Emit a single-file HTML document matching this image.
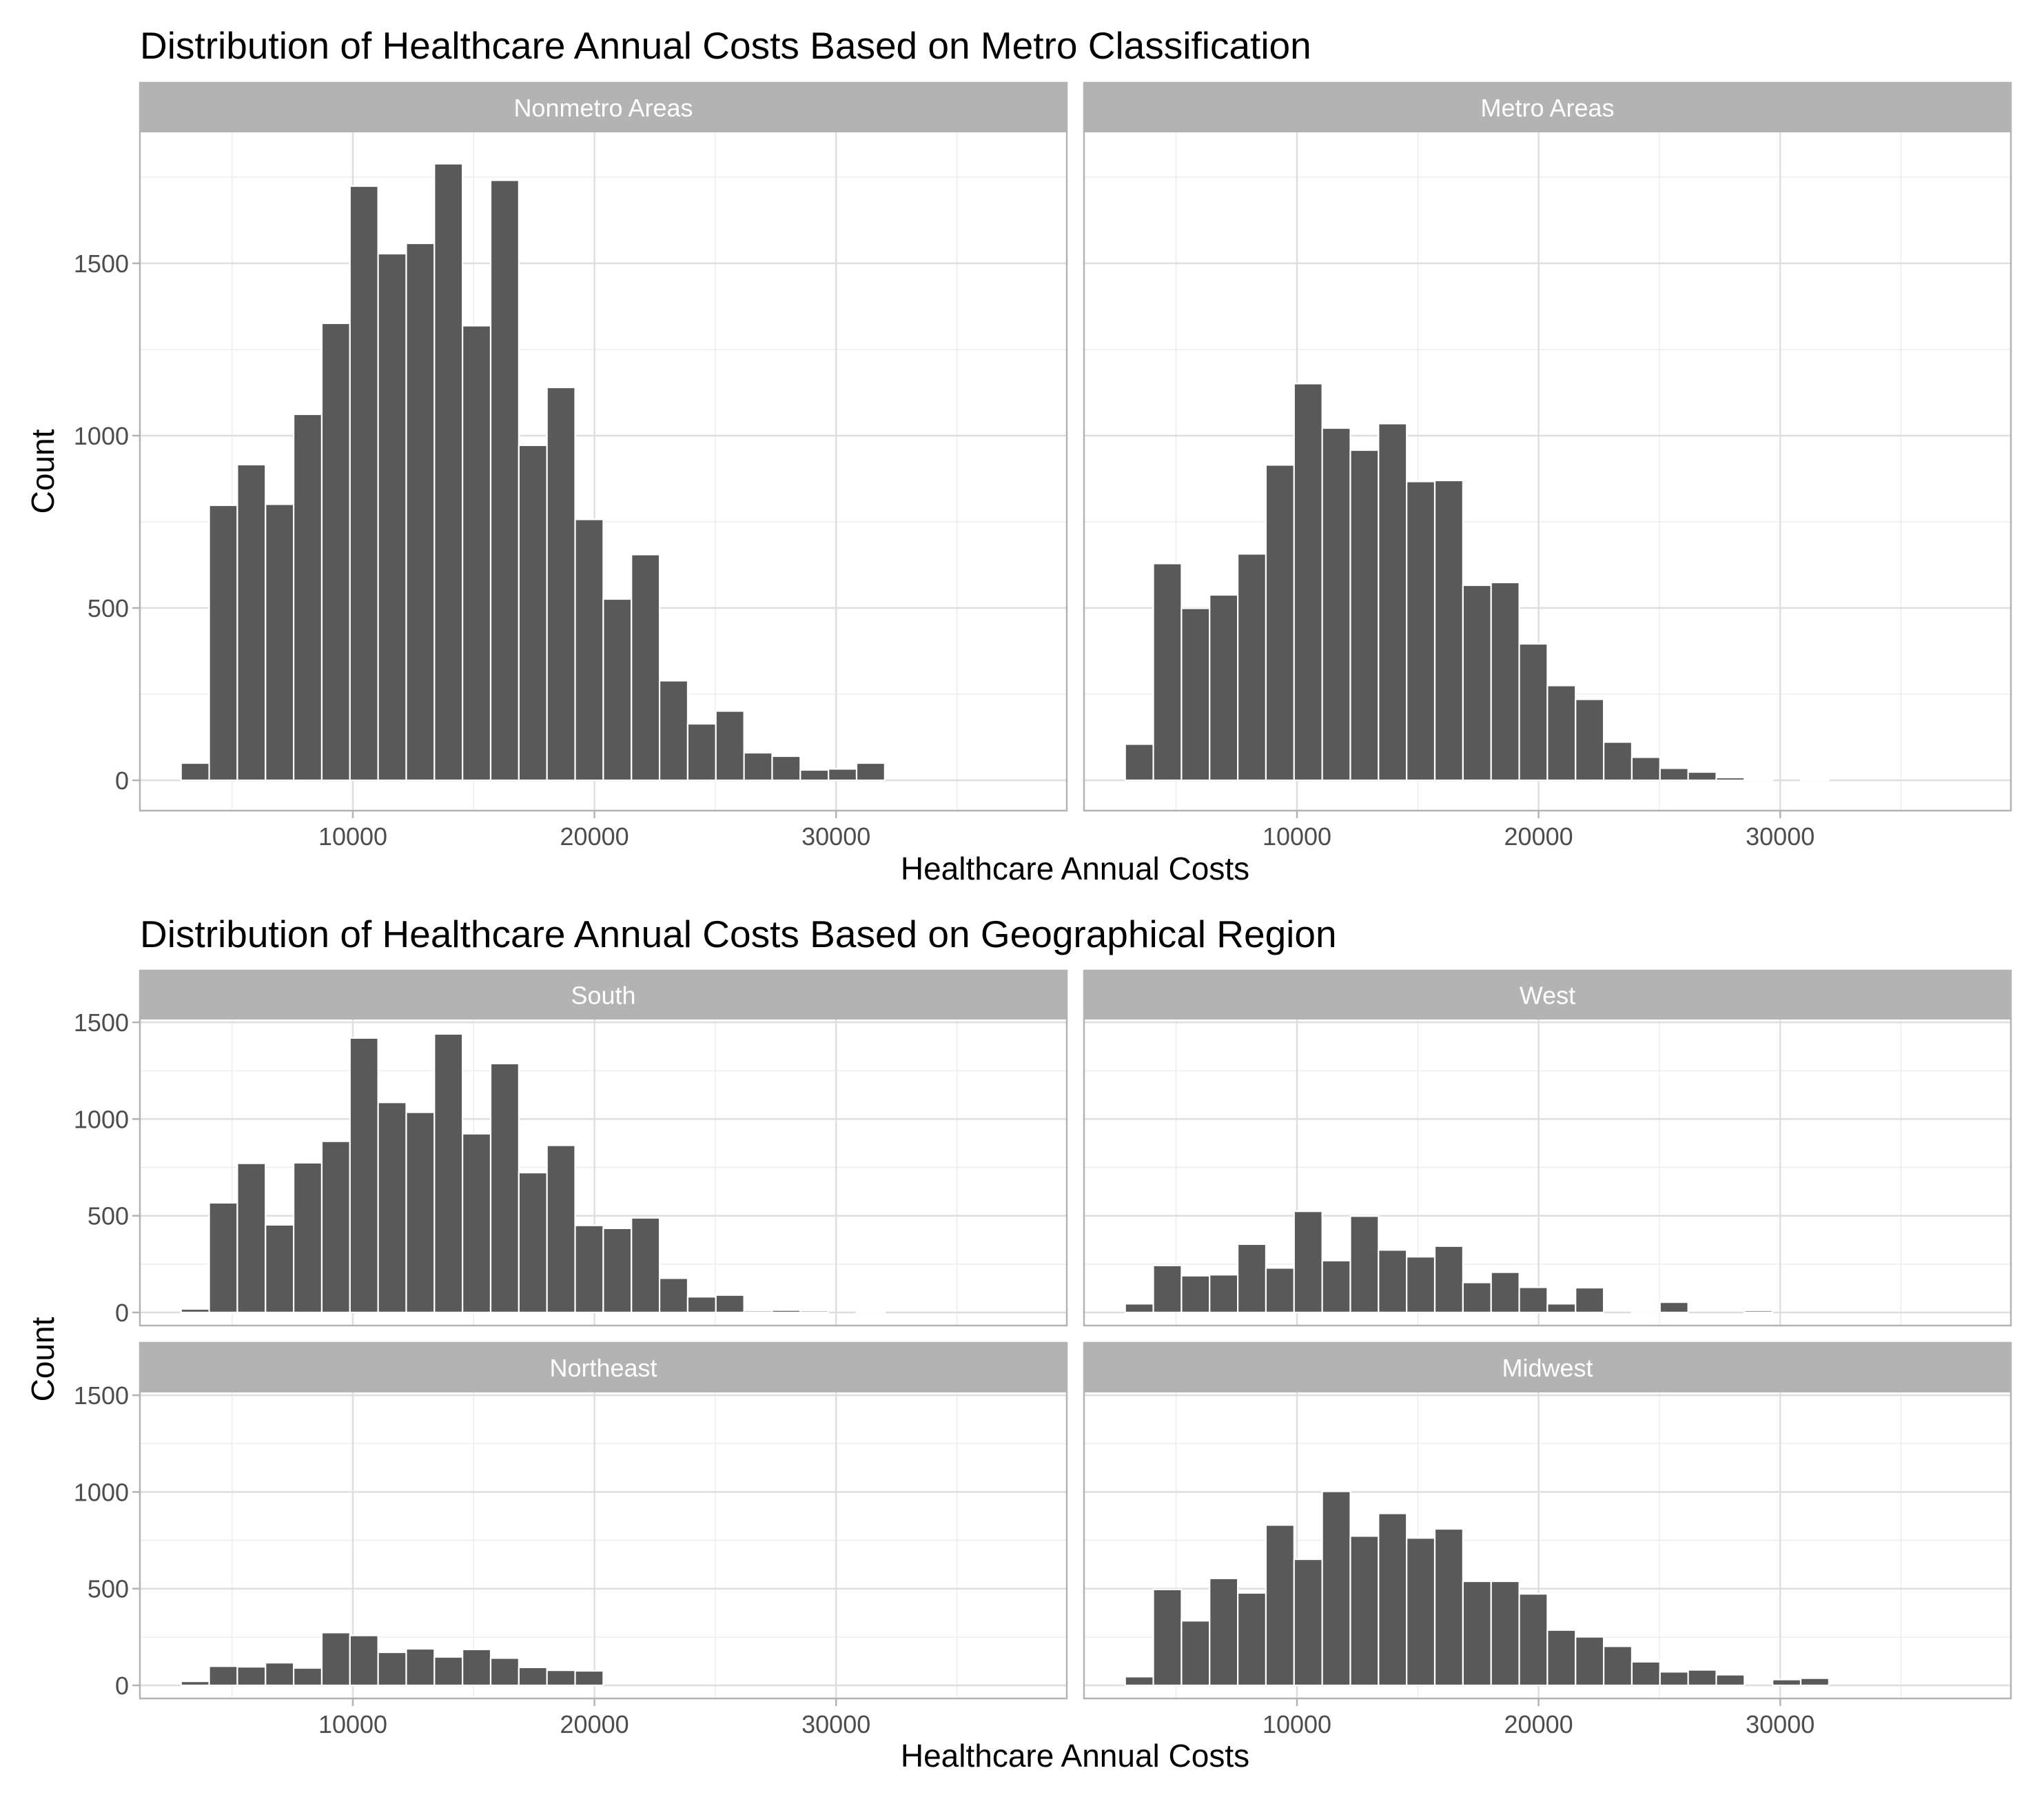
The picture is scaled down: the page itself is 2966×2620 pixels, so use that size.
<!DOCTYPE html>
<html><head><meta charset="utf-8">
<style>
html,body{margin:0;padding:0;background:#fff;}
svg{display:block;font-family:"Liberation Sans",Arial,sans-serif;}
</style></head>
<body>
<svg id="chart" width="2966" height="2620" viewBox="0 0 2966 2620" xmlns="http://www.w3.org/2000/svg">
<rect x="0" y="0" width="2966" height="2620" fill="#fff"/>
<text x="203" y="85" font-size="55" fill="#000">Distribution of Healthcare Annual Costs Based on Metro Classification</text>
<text x="203" y="1374" font-size="55" fill="#000">Distribution of Healthcare Annual Costs Based on Geographical Region</text>
<text transform="translate(78,684) rotate(-90)" text-anchor="middle" font-size="46" fill="#000">Count</text>
<text transform="translate(78,1972) rotate(-90)" text-anchor="middle" font-size="46" fill="#000">Count</text>
<text x="1560" y="1276" text-anchor="middle" font-size="46" fill="#000">Healthcare Annual Costs</text>
<text x="1560" y="2563" text-anchor="middle" font-size="46" fill="#000">Healthcare Annual Costs</text>
<g id="panels"></g>
</svg>
<script>
// bins: 30 bins starting at binStart with width binWidth
const binStart = 2890;
const binWidth = 1165;
const xTicks = [10000, 20000, 30000];
const xMinor = [5000, 15000, 25000, 35000];
const topYTicks = [0, 500, 1000, 1500];
const topYMinor = [250, 750, 1250, 1750];
const botYTicks = [0, 500, 1000, 1500];
const botYMinor = [250, 750, 1250];

const nonmetroCounts = [50,798,916,801,1062,1326,1724,1528,1558,1789,1319,1741,972,1140,757,526,655,289,164,201,80,70,30,33,50,0,0,0,0,0];
const metroCounts = [105,629,499,538,657,915,1151,1022,958,1035,867,870,566,574,396,275,235,111,67,35,24,8,4,0,4,0,0,0,0,0];
const southCounts = [18,567,771,453,774,885,1419,1086,1035,1440,924,1287,723,864,450,435,489,177,81,90,9,12,9,0,6,0,0,0,0,0];
const westCounts = [45,243,190,195,353,230,523,268,498,323,288,343,155,208,130,45,128,0,8,53,0,0,10,0,0,0,0,0,0,0];
const northeastCounts = [21,99,96,117,90,273,258,171,189,147,186,141,93,78,75,0,0,0,0,0,0,0,0,0,0,0,0,0,0,0];
const midwestCounts = [45,496,334,553,478,829,652,1003,772,889,762,809,538,538,473,286,251,202,122,70,80,55,0,30,37,0,0,0,0,0];

const NS = "http://www.w3.org/2000/svg";
const root = document.getElementById('panels');
function mk(tag, attrs, parent){
  const e = document.createElementNS(NS, tag);
  for (const k in attrs) e.setAttribute(k, attrs[k]);
  (parent||root).appendChild(e);
  return e;
}
function xScale(left){ return v => left + 309 + (v - 10000) * 0.03506; }

function panel(name, label, left, stripTop, stripBot, bottom, y0, perUnit, counts, yTicks, yMinor, showY, showX){
  const W = 1345;
  const xs = xScale(left);
  const ys = v => y0 - v * perUnit;
  const g = mk('g', {});
  
  
  // minor grid
  yMinor.forEach(v => { const l = mk('line',{x1:left,x2:left+W,y1:ys(v),y2:ys(v),stroke:'#ebebeb','stroke-width':1.3},g);   });
  xMinor.forEach(v => { const l = mk('line',{x1:xs(v),x2:xs(v),y1:stripBot,y2:bottom,stroke:'#ebebeb','stroke-width':1.3},g);   });
  yTicks.forEach(v => { const l = mk('line',{x1:left,x2:left+W,y1:ys(v),y2:ys(v),stroke:'#dedede','stroke-width':2.5},g);   });
  xTicks.forEach(v => { const l = mk('line',{x1:xs(v),x2:xs(v),y1:stripBot,y2:bottom,stroke:'#dedede','stroke-width':2.5},g);   });
  // bars
  counts.forEach((c, i) => {
    const x0 = xs(binStart + i * binWidth), x1 = xs(binStart + (i + 1) * binWidth);
    const r = mk('rect',{x:x0,y:ys(c),width:x1-x0,height:Math.max(0,ys(0)-ys(c)),fill:'#595959',stroke:'#fff','stroke-width':2.2},g);
    
    
  });
  // border
  const b = mk('rect',{x:left,y:stripTop,width:W,height:bottom-stripTop,fill:'none',stroke:'#b3b3b3','stroke-width':2.5},g);
  
  
  // strip
  const s = mk('rect',{x:left,y:stripTop,width:W,height:stripBot-stripTop,fill:'#b3b3b3'},g);
  
  
  const st = mk('text',{x:left+W/2,y:(stripTop+stripBot)/2+13,'text-anchor':'middle','font-size':36,fill:'#fff'},g);
  st.textContent = label;
  
  
  if (showY) {
    yTicks.forEach(v => {
      const t = mk('line',{x1:left-11,x2:left,y1:ys(v),y2:ys(v),stroke:'#b3b3b3','stroke-width':2.5},g);
      
      
      const tl = mk('text',{x:left-16,y:ys(v)+13,'text-anchor':'end','font-size':36,fill:'#4d4d4d'},g);
      tl.textContent = v;
      
      
    });
  }
  if (showX) {
    xTicks.forEach(v => {
      const t = mk('line',{x1:xs(v),x2:xs(v),y1:bottom,y2:bottom+11,stroke:'#b3b3b3','stroke-width':2.5},g);
      
      
      const tl = mk('text',{x:xs(v),y:bottom+50,'text-anchor':'middle','font-size':36,fill:'#4d4d4d'},g);
      tl.textContent = v;
      
      
    });
  }
}
const L = 203, R = 1573;
panel('nonmetro','Nonmetro Areas',L,120,192,1176,1132,0.5,nonmetroCounts,topYTicks,topYMinor,true,true);
panel('metro','Metro Areas',R,120,192,1176,1132,0.5,metroCounts,topYTicks,topYMinor,false,true);
const pb = 0.2806;
panel('south','South',L,1408,1479,1923,1904,pb,southCounts,botYTicks,botYMinor,true,false);
panel('west','West',R,1408,1479,1923,1904,pb,westCounts,botYTicks,botYMinor,false,false);
panel('northeast','Northeast',L,1948,2020,2464,2445,pb,northeastCounts,botYTicks,botYMinor,true,true);
panel('midwest','Midwest',R,1948,2020,2464,2445,pb,midwestCounts,botYTicks,botYMinor,false,true);
</script>
</body></html>
